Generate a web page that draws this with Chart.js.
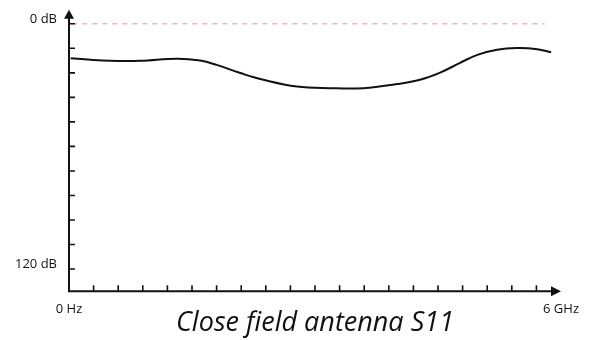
<!DOCTYPE html>
<html>
<head>
<meta charset="utf-8">
<script src="https://cdn.jsdelivr.net/npm/chart.js@4"></script>
<style>
  body { margin: 0; background: #fff; }
  #wrap { width: 591px; height: 340px; }
</style>
</head>
<body>
<div id="wrap"><canvas id="s11Chart"></canvas></div>
<script>
// frequency in GHz, return loss in dB (0 at top)
const freqGHz = [0.02, 0.26, 0.5, 0.87, 1.32, 1.6, 1.8, 2.09, 2.37, 2.78, 3.18, 3.59, 4.0, 4.28, 4.52, 4.77, 4.98, 5.22, 5.46, 5.71, 5.88];
const s11dB = [16.8, 17.6, 18.1, 18.1, 17.1, 18.0, 20.1, 24.1, 27.4, 30.7, 31.5, 31.5, 29.5, 27.4, 24.0, 19.1, 15.2, 12.7, 11.9, 12.4, 13.9];
const refFreq = [0.04, 5.8];
const refdB = [0, 0];
const yTicks = [0, 12, 24, 36, 48, 60, 72, 84, 96, 108, 120];
const xTicks = [0, 0.3, 0.6, 0.9, 1.2, 1.5, 1.8, 2.1, 2.4, 2.7, 3.0, 3.3, 3.6, 3.9, 4.2, 4.5, 4.8, 5.1, 5.4, 5.7, 6.0];
const yLabels = { 0: '0 dB', 120: '120 dB' };
const xLabels = ['0 Hz', '6 GHz'];

// axes with arrows and inward ticks
const axesPlugin = {
  id: 'axes',
  afterDraw(chart) {
    const ctx = chart.ctx;
    const x = chart.scales.x, y = chart.scales.y;
    const x0 = x.getPixelForValue(0), x1 = x.getPixelForValue(6);
    const yTop = y.top, yBot = y.bottom;
    ctx.save();
    ctx.strokeStyle = '#111';
    ctx.fillStyle = '#111';
    ctx.lineWidth = 2;
    ctx.beginPath();
    ctx.moveTo(x0, yTop + 6);
    ctx.lineTo(x0, yBot);
    ctx.lineTo(x1 - 6, yBot);
    ctx.stroke();
    // arrows
    ctx.beginPath();
    ctx.moveTo(x0, yTop);
    ctx.lineTo(x0 - 5, yTop + 9);
    ctx.lineTo(x0 + 5, yTop + 9);
    ctx.closePath();
    ctx.fill();
    ctx.beginPath();
    ctx.moveTo(x1, yBot);
    ctx.lineTo(x1 - 10, yBot - 5);
    ctx.lineTo(x1 - 10, yBot + 5);
    ctx.closePath();
    ctx.fill();
    // tick marks
    ctx.lineWidth = 1.6;
    ctx.beginPath();
    y.ticks.forEach(t => {
      const p = y.getPixelForValue(t.value);
      ctx.moveTo(x0, p);
      ctx.lineTo(x0 + 6, p);
    });
    x.ticks.forEach((t, i) => {
      if (i === 0 || i === x.ticks.length - 1) return;
      const p = x.getPixelForValue(t.value);
      ctx.moveTo(p, yBot);
      ctx.lineTo(p, yBot - 6);
    });
    ctx.stroke();
    ctx.restore();
  }
};

const noPad = s => {
  s.paddingTop = 0; s.paddingBottom = 0; s.paddingLeft = 0; s.paddingRight = 0;
};

new Chart('s11Chart', {
  type: 'line',
  data: {
    datasets: [
      {
        label: 'S11',
        data: freqGHz.map((f, i) => ({ x: f, y: s11dB[i] })),
        borderColor: '#111',
        borderWidth: 2,
        pointRadius: 0,
        tension: 0.4,
        fill: false
      },
      {
        label: '0 dB',
        data: refFreq.map((f, i) => ({ x: f, y: refdB[i] })),
        borderColor: '#f4a0a0',
        borderWidth: 1.2,
        borderDash: [5, 5],
        pointRadius: 0,
        fill: false
      }
    ]
  },
  options: {
    responsive: true,
    maintainAspectRatio: false,
    animation: false,
    layout: { padding: { left: 0, right: 30, top: 9.7, bottom: 0 } },
    plugins: {
      legend: { display: false },
      tooltip: { enabled: false }
    },
    scales: {
      x: {
        type: 'linear',
        min: 0,
        max: 6,
        afterBuildTicks: s => { s.ticks = xTicks.map(v => ({ value: v })); },
        afterFit: s => { s.height = 48.7; noPad(s); },
        grid: { display: false, drawTicks: false },
        border: { display: false },
        ticks: {
          autoSkip: false,
          maxRotation: 0,
          padding: 10,
          color: '#111',
          font: { family: 'Open Sans', size: 13 },
          callback: (v, i, ticks) => i === 0 ? xLabels[0] : (i === ticks.length - 1 ? xLabels[1] : '')
        },
        title: {
          display: true,
          text: 'Close field antenna S11',
          color: '#111',
          padding: { top: 0, bottom: 0 },
          font: { family: 'Open Sans', size: 27, style: 'italic' }
        }
      },
      y: {
        type: 'linear',
        reverse: true,
        min: -6.9,
        max: 130.9,
        afterBuildTicks: s => { s.ticks = yTicks.map(v => ({ value: v })); },
        afterFit: s => { s.width = 69; noPad(s); },
        grid: { display: false, drawTicks: false },
        border: { display: false },
        ticks: {
          autoSkip: false,
          padding: 12,
          labelOffset: -5,
          color: '#111',
          font: { family: 'Open Sans', size: 13 },
          callback: v => yLabels[v] || ''
        }
      }
    }
  },
  plugins: [axesPlugin]
});
</script>
</body>
</html>
